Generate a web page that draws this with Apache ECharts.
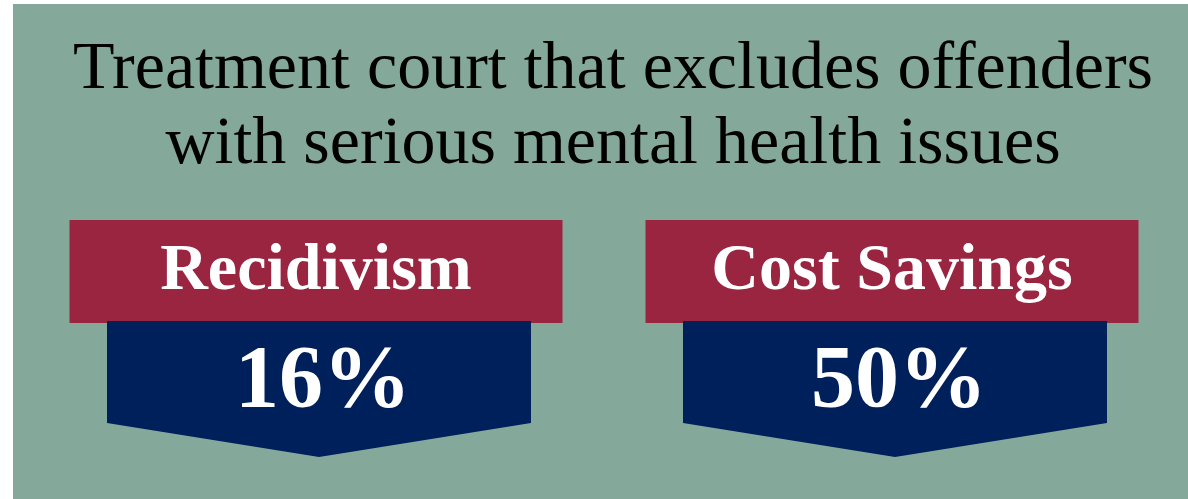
<!DOCTYPE html>
<html>
<head>
<meta charset="utf-8">
<script src="https://cdn.jsdelivr.net/npm/echarts@6/dist/echarts.min.js"></script>
<style>
  html, body { margin: 0; padding: 0; background: #fff; }
  #chart { width: 1188px; height: 499px; }
</style>
</head>
<body>
<div id="chart"></div>
<script>
// data
const titleLines = ['Treatment court that excludes offenders', 'with serious mental health issues']
const categories = ['Recidivism', 'Cost Savings']
const values = [16, 50]

const panelColor = '#84a99b'
const headColor = '#9a2540'
const arrowColor = '#00205b'
const serif = '"Liberation Serif", "DejaVu Serif", serif'

const chart = echarts.init(document.getElementById('chart'))

function renderBadge(params, api) {
  const idx = api.value(0)
  const val = api.value(1)
  const cx = api.coord([idx, 0])[0]
  const ax = cx + 3
  const headW = 493
  const arrowW = 424
  return {
    type: 'group',
    children: [
      {
        type: 'rect',
        shape: { x: cx - headW / 2, y: 220, width: headW, height: 103 },
        style: { fill: headColor }
      },
      {
        type: 'polygon',
        shape: {
          points: [
            [ax - arrowW / 2, 321],
            [ax + arrowW / 2, 321],
            [ax + arrowW / 2, 423],
            [ax, 457],
            [ax - arrowW / 2, 423]
          ]
        },
        style: { fill: arrowColor }
      },
      {
        type: 'text',
        style: {
          x: cx,
          y: 272,
          text: categories[idx],
          fill: '#fff',
          font: 'bold 66px ' + serif,
          textAlign: 'center',
          textVerticalAlign: 'middle'
        }
      },
      {
        type: 'text',
        style: {
          x: ax + 4,
          y: 383,
          text: val + '%',
          fill: '#fff',
          font: 'bold 88px ' + serif,
          textAlign: 'center',
          textVerticalAlign: 'middle'
        }
      }
    ]
  }
}

chart.setOption({
  backgroundColor: '#fff',
  animation: false,
  graphic: [
    {
      type: 'rect',
      z: -10,
      shape: { x: 13, y: 4, width: 1175, height: 495 },
      style: { fill: panelColor }
    },
    {
      type: 'text',
      style: {
        x: 613,
        y: 70,
        text: titleLines[0],
        fill: '#000',
        font: '68px ' + serif,
        textAlign: 'center',
        textVerticalAlign: 'middle'
      }
    },
    {
      type: 'text',
      style: {
        x: 613,
        y: 145,
        text: titleLines[1],
        fill: '#000',
        font: '68px ' + serif,
        textAlign: 'center',
        textVerticalAlign: 'middle'
      }
    }
  ],
  grid: { left: 28, right: 8, top: 0, bottom: 0 },
  xAxis: { type: 'category', data: categories, show: false },
  yAxis: { type: 'value', show: false, min: 0, max: 100 },
  series: [{
    type: 'custom',
    renderItem: renderBadge,
    data: categories.map((c, i) => [i, values[i]])
  }]
})
</script>
</body>
</html>
